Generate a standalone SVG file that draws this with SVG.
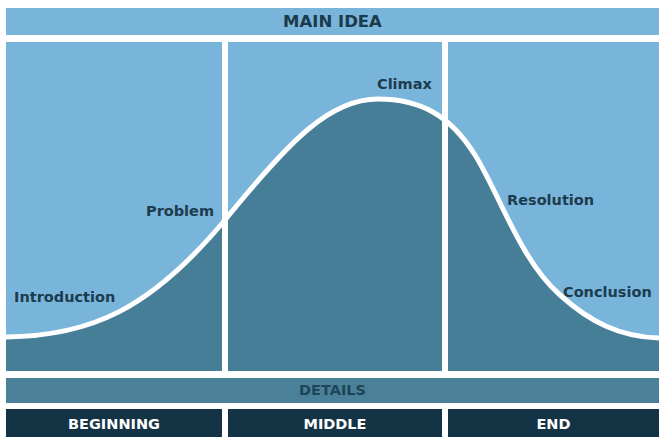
<svg xmlns="http://www.w3.org/2000/svg" width="665" height="443" viewBox="0 0 665 443">
<style>
.light{fill:#79b4da}
.dark{fill:#477e97}
.band{fill:#4a8199}
.foot{fill:#143446}
.lbl{font-family:"DejaVu Sans",sans-serif;font-weight:bold;font-size:14.5px;fill:#1c3c4e}
.hdr{font-family:"DejaVu Sans",sans-serif;font-weight:bold;text-anchor:middle}
</style>
<rect width="665" height="443" fill="#ffffff"/>
<g id="main-idea">
<rect class="light" x="6" y="8" width="653" height="27"/>
<text class="hdr" x="332.5" y="27" font-size="16.5" fill="#1b3a4b">MAIN IDEA</text>
</g>
<g id="panels">
<rect class="light" x="6" y="42" width="653" height="329"/>
<path class="dark" d="M6,337 C90,336 150,310 225,220 C290,140 330,99 378,99 C420,99 450,115 475,155 C500,195 520,260 560,295 C590,322 620,337 659,338 L659,371 L6,371 Z"/>
<path d="M6,337 C90,336 150,310 225,220 C290,140 330,99 378,99 C420,99 450,115 475,155 C500,195 520,260 560,295 C590,322 620,337 659,338" fill="none" stroke="#ffffff" stroke-width="5"/>
<rect x="222" y="35" width="6" height="343" fill="#ffffff"/>
<rect x="442" y="35" width="6" height="343" fill="#ffffff"/>
</g>
<g id="labels">
<text class="lbl" x="14" y="302">Introduction</text>
<text class="lbl" x="146" y="216">Problem</text>
<text class="lbl" x="377" y="89">Climax</text>
<text class="lbl" x="507" y="205">Resolution</text>
<text class="lbl" x="563" y="297">Conclusion</text>
</g>
<g id="details">
<rect class="band" x="6" y="378" width="653" height="25"/>
<text class="hdr" x="332.5" y="394.5" font-size="14.5" fill="#1e4457">DETAILS</text>
</g>
<g id="beginning">
<rect class="foot" x="6" y="409" width="216" height="28"/>
<text class="hdr" x="114" y="429" font-size="14.5" fill="#ffffff">BEGINNING</text>
</g>
<g id="middle">
<rect class="foot" x="228" y="409" width="214" height="28"/>
<text class="hdr" x="335" y="429" font-size="14.5" fill="#ffffff">MIDDLE</text>
</g>
<g id="end">
<rect class="foot" x="448" y="409" width="211" height="28"/>
<text class="hdr" x="553.5" y="429" font-size="14.5" fill="#ffffff">END</text>
</g>
<g id="connectors"></g>
</svg>
